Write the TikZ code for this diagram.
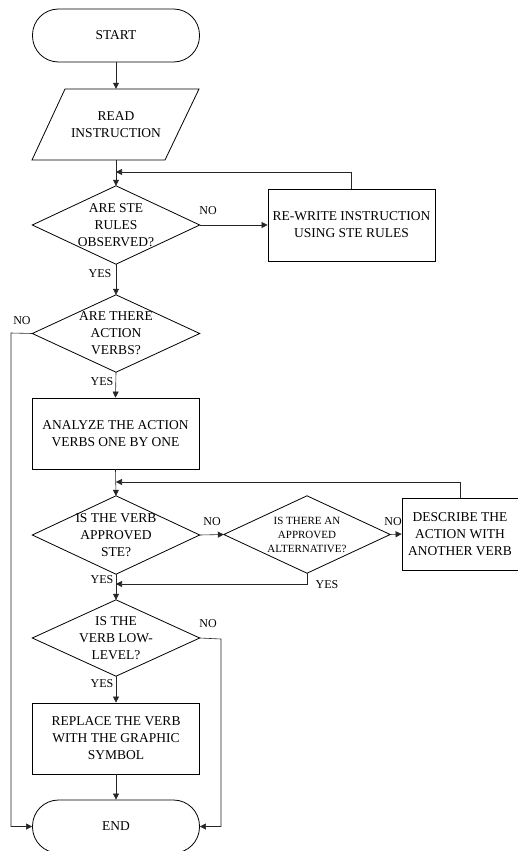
\documentclass[tikz,border=0pt]{standalone}
\usepackage{fontspec}
\setmainfont{Liberation Serif}
\usetikzlibrary{arrows.meta}
\begin{document}
\begin{tikzpicture}[x=1pt,y=-1pt,
  box/.style={draw, line width=0.8pt, minimum width=167pt, minimum height=71pt, inner sep=0pt, align=center, font=\fontsize{13.5}{17}\selectfont},
  term/.style={box, rounded corners=26pt, minimum height=53pt},
  ghost/.style={draw=none, minimum width=167pt, minimum height=78pt, inner sep=0pt, align=center, font=\fontsize{13.5}{17}\selectfont},
  outline/.style={draw, line width=0.8pt},
  conn/.style={draw=black!85, line width=0.6pt},
  arr/.style={conn, -{Triangle[length=6pt,width=6pt]}},
  lab/.style={font=\fontsize{12}{14}\selectfont, inner sep=0pt}
]
\useasboundingbox (0,0) rectangle (518,851);

% nodes
\node[term] (start) at (116,35.5) {START};
\node[ghost, minimum height=71pt] (read) at (116,124.5) {READ\\INSTRUCTION};
\draw[outline] (65,89) -- (199,89) -- (165,160) -- (32,160) -- cycle;
\node[ghost] (d1) at (116,225) {ARE STE\\RULES\\OBSERVED?};
\node[box, minimum height=72pt] (rewrite) at (351.5,225) {RE-WRITE INSTRUCTION\\USING STE RULES};
\node[ghost, minimum height=77pt] (d2) at (116,333.5) {ARE THERE\\ACTION\\VERBS?};
\node[box] (analyze) at (115.5,433.5) {ANALYZE THE ACTION\\VERBS ONE BY ONE};
\node[ghost] (d3) at (116,535) {IS THE VERB\\APPROVED\\STE?};
\node[ghost, minimum width=166pt, minimum height=77pt, font=\fontsize{11}{14}\selectfont] (d4) at (307,534.5) {IS THERE AN\\APPROVED\\ALTERNATIVE?};
\node[box, minimum width=116pt, minimum height=72pt] (describe) at (460,534) {DESCRIBE THE\\ACTION WITH\\ANOTHER VERB};
\node[ghost, minimum height=76pt] (d5) at (116,638) {IS THE\\VERB LOW-\\LEVEL?};
\node[box] (replace) at (116,738.5) {REPLACE THE VERB\\WITH THE GRAPHIC\\SYMBOL};
\node[term] (end) at (116,826.5) {END};

\foreach \d in {d1,d2,d3,d4,d5}
  \draw[outline] (\d.north) -- (\d.east) -- (\d.south) -- (\d.west) -- cycle;

% junction coordinates
\coordinate (j1) at (116,172);
\coordinate (j2) at (116,482);
\coordinate (j3) at (116,584);
\coordinate (lx) at (11,333);
\coordinate (rx) at (221,639);

% connectors
\draw[arr] (start.south) -- (read.north);
\draw[arr] (read.south) -- (d1.north);
\draw[arr] (rewrite.north) |- (j1);
\draw[arr] (d1.east) -- (rewrite.west);
\draw[arr] (d1.south) -- (d2.north);
\draw[arr] (d2.west) -- (lx) |- (end.west);
\draw[arr] (d2.south) -- (analyze.north);
\draw[arr] (analyze.south) -- (d3.north);
\draw[arr] (describe.north) |- (j2);
\draw[arr] (d3.east) -- (d4.west);
\draw[arr] (d4.east) -- (describe.west);
\draw[arr] (d4.south) |- (j3);
\draw[arr] (d3.south) -- (d5.north);
\draw[arr] (d5.east) -- (rx) |- (end.east);
\draw[arr] (d5.south) -- (replace.north);
\draw[arr] (replace.south) -- (end.north);

% labels
\node[lab] (l1) at (208,211) {NO};
\node[lab] (l2) at (100,274) {YES};
\node[lab] (l3) at (22,321) {NO};
\node[lab] (l4) at (102,382) {YES};
\node[lab] (l5) at (212,522) {NO};
\node[lab] (l6) at (393,522) {NO};
\node[lab] (l7) at (327,585) {YES};
\node[lab] (l8) at (102,580) {YES};
\node[lab] (l9) at (208,624) {NO};
\node[lab] (l10) at (102,684) {YES};
\end{tikzpicture}
\end{document}
